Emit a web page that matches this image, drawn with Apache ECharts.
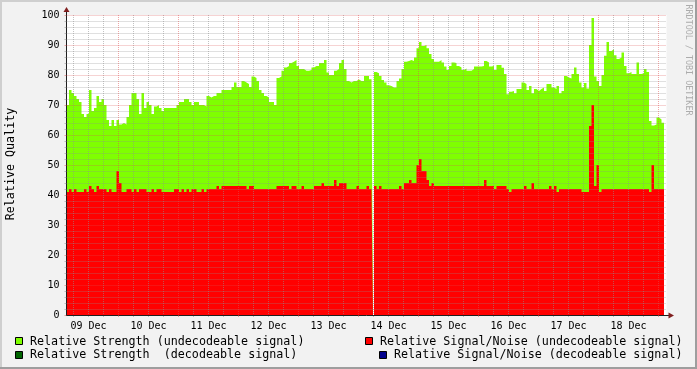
<!DOCTYPE html>
<html><head><meta charset="utf-8">
<script src="https://cdn.jsdelivr.net/npm/echarts@6/dist/echarts.min.js"></script>
<style>html,body{margin:0;padding:0;background:#f2f2f2}#c{width:697px;height:369px}</style>
</head><body><div id="c"></div>
<script>
// time axis: hours from graph start (09 Dec ~03:10), one value per hour
const spanHours = 240;
const firstMidnightHour = 20.8;           // 10 Dec 00:00
const dayLabels = ['09 Dec','10 Dec','11 Dec','12 Dec','13 Dec','14 Dec','15 Dec','16 Dec','17 Dec','18 Dec'];
const yTicks = [0,10,20,30,40,50,60,70,80,90,100];

const strengthUndecodeable = [
70,75,74,73,72,71,67,66,67,75,
68,69,73,71,72,70,65,63,65,63,
65,63.5,64,63.5,66,70,74,74,72,67,
74,69,71,70,67,69.5,70,69,68,69,
69,69,69,69,70,71,71,72,72,71,
70,71,71,70,70,69.5,73,72.5,73,73,
74,74,75,75,75,75,76,77.5,76,76,
78,77.5,77,76,79.5,79,78,75,74,73,
72.5,71,71,70,79,79.5,81.4,82.5,83,84,
84.4,85,83,82,82,81.4,81.4,81.7,82.5,83,
83,84,84,85,80.8,80,80,81.4,82,84,
85,82,78,77.5,78,78,78.5,78,78,79.7,
79.7,78.6,80,81,80.6,79.7,78.3,77.5,76.6,76.3,
75.8,75.8,78,78.8,82,84.4,84.7,85,84.7,85.8,
88.9,91,89.7,90,88.9,87,85.3,84.4,84.4,85,
84.2,82.8,81.7,83,84.2,84,83,82.5,81.7,82.2,
81.4,81.4,82,82.8,82.8,82.8,83,84.7,84.2,82.8,
83,81.7,83.3,83.3,82.4,80.3,73.6,74.4,74.7,73.9,
75.3,75.3,77.5,77,75,76.3,73.9,75.3,74.7,75.3,
75.8,74.7,77,77,75.8,75.3,76.3,73.9,74.7,79.7,
79.2,78.8,80.3,82.5,80.3,77.5,75.8,77.3,75.5,90,
99,79.5,78,76.3,80,86.4,91,88,88.6,86.6,
85.3,85.8,87.5,83,80.6,81,80.3,80.3,84.2,80.3,
80.6,82,81,64.7,63.2,63.5,65.8,65.2,64.1
];
const snrUndecodeable = [
41,42,41,42,41,41,41,42,41,43,
42,41,43,42,42,42,41,42,41,41,
48,44,41,41,42,42,41,42,41,42,
42,42,41,41,42,41,42,42,41,41,
41,41,41,42,42,41,42,41,42,41,
42,42,41,41,42,41,42,42,42,42,
43,42,43,43,43,43,43,43,43,43,
43,43,42,43,43,42,42,42,42,42,
42,42,42,42,43,43,43,43,43,42,
43,43,42,42,43,42,42,42,42,43,
43,43,44,43,43,43,43,45,43,44,
44,44,42,42,42,42,43,42,42,42,
43,42,42,43,42,43,42,42,42,42,
42,42,42,43,42,44,44,45,44,44,
50,52,48,48,45,43,44,43,43,43,
43,43,43,43,43,43,43,43,43,43,
43,43,43,43,43,43,43,45,43,43,
43,42,43,43,43,43,42,41,42,42,
42,42,42,43,42,42,44,42,42,42,
42,42,42,43,42,43,41,42,42,42,
42,42,42,42,42,42,41,41,41,63,
70,43,50,41,42,42,42,42,42,42,
42,42,42,42,42,42,42,42,42,42,
42,42,42,41,50,42,42,42,42
];
const strengthDecodeable = [];
const snrDecodeable = [];
const unknownSpans = [[122.6, 123.0]];   // no data (blank column)

const names = ['Relative Strength (undecodeable signal)','Relative Strength  (decodeable signal)',
  'Relative Signal/Noise (undecodeable signal)','Relative Signal/Noise (decodeable signal)'];
const colors = ['#7fff00','#006400','#ff0000','#00008b'];

// step data: value i holds over [i, i+1); unknown spans break the area
function toSteps(arr) {
  if (!arr.length) return [];
  const out = [];
  arr.forEach((v, i) => {
    out.push([i, v]);
    unknownSpans.forEach(([a, b]) => {
      if (a >= i && a < i + 1) { out.push([a, v]); out.push([a, null]); out.push([b, v]); }
    });
  });
  out.push([arr.length, arr[arr.length - 1]]);
  return out;
}

const majorHours = [], labelHours = [], minorHours = [];
for (let k = 0; firstMidnightHour + 24*k <= spanHours; k++) majorHours.push(firstMidnightHour + 24*k);
dayLabels.forEach((_, k) => labelHours.push(firstMidnightHour - 12 + 24*k));
for (let k = -3; firstMidnightHour + 6*k <= spanHours; k++) if (((k%4)+4)%4 !== 0) minorHours.push(firstMidnightHour + 6*k);

const GRID = 'rgba(143,143,143,0.55)';
const MGRID = 'rgba(222,79,79,0.5)';
const FONT = 'DejaVu Sans Mono';

function areaSeries(idx, arr, z) {
  return { name: names[idx], type:'line', step:'end', data: toSteps(arr), symbol:'none', showSymbol:false,
    connectNulls:false,
    lineStyle:{width:0, opacity:0}, itemStyle:{color:colors[idx]}, areaStyle:{color:colors[idx], opacity:1},
    z: z, silent:true };
}

const legendItems = [
  {box:[15.5,337.5], tx:30, ty:341.5, i:0},
  {box:[15.5,351.5], tx:30, ty:355, i:1},
  {box:[365.5,337.5], tx:380, ty:341.5, i:2},
  {box:[379.5,351.5], tx:394, ty:355, i:3}
];
const graphic = [
  {type:'rect', shape:{x:0,y:0,width:697,height:2}, style:{fill:'#cfcfcf'}, silent:true},
  {type:'rect', shape:{x:0,y:0,width:2,height:369}, style:{fill:'#cfcfcf'}, silent:true},
  {type:'rect', shape:{x:0,y:367,width:697,height:2}, style:{fill:'#9e9e9e'}, silent:true},
  {type:'rect', shape:{x:695,y:0,width:2,height:369}, style:{fill:'#9e9e9e'}, silent:true},
  {type:'line', shape:{x1:66.5,y1:15,x2:66.5,y2:11}, style:{stroke:'#1f1f1f', lineWidth:1}, silent:true},
  {type:'polygon', shape:{points:[[63.5,12],[69.5,12],[66.5,7]]}, style:{fill:'#801f1f'}, silent:true},
  {type:'line', shape:{x1:666,y1:315.5,x2:669,y2:315.5}, style:{stroke:'#1f1f1f', lineWidth:1}, silent:true},
  {type:'polygon', shape:{points:[[668.5,312.5],[668.5,318.5],[674,315.5]]}, style:{fill:'#801f1f'}, silent:true},
  {type:'text', x:11, y:164, rotation:Math.PI/2, silent:true,
    style:{text:'Relative Quality', font:'11.7px "DejaVu Sans Mono"', fill:'#000', align:'center', verticalAlign:'middle'}},
  {type:'text', x:688, y:60, rotation:-Math.PI/2, silent:true,
    style:{text:'RRDTOOL / TOBI OETIKER', font:'8.4px "DejaVu Sans Mono"', fill:'#acacac', align:'center', verticalAlign:'middle'}}
];
legendItems.forEach(it => {
  graphic.push({type:'rect', shape:{x:it.box[0], y:it.box[1], width:7, height:7}, style:{fill:colors[it.i], stroke:'#000', lineWidth:1}, silent:true});
  graphic.push({type:'text', x:it.tx, y:it.ty, silent:true,
    style:{text:names[it.i], font:'11.7px "DejaVu Sans Mono"', fill:'#000', align:'left', verticalAlign:'middle'}});
});

const chart = echarts.init(document.getElementById('c'));
chart.setOption({
  animation:false,
  backgroundColor:'#f2f2f2',
  grid:{left:66.5, top:15, width:600, height:300, show:true, backgroundColor:'#ffffff', borderWidth:0, containLabel:false},
  xAxis:[
    { type:'value', min:0, max:spanHours, position:'bottom', z:10,
      axisLine:{show:true, onZero:false, lineStyle:{color:'#1f1f1f', width:1}},
      axisTick:{show:true, customValues:majorHours, length:2, lineStyle:{color:MGRID}},
      axisLabel:{show:true, customValues:labelHours, formatter:v => dayLabels[Math.round((v - labelHours[0])/24)],
        fontFamily:FONT, fontSize:10, color:'#000', margin:6},
      splitLine:{show:true, lineStyle:{color:MGRID, type:[1,1], width:1}} },
    { type:'value', min:0, max:spanHours, position:'bottom', z:9,
      axisLine:{show:false}, axisLabel:{show:false},
      axisTick:{show:true, customValues:minorHours, length:2, lineStyle:{color:GRID}},
      splitLine:{show:true, lineStyle:{color:GRID, type:[1,1], width:1}} }
  ],
  yAxis:{ type:'value', min:0, max:100, interval:10, z:10,
    axisLine:{show:true, onZero:false, lineStyle:{color:'#1f1f1f', width:1}},
    axisTick:{show:true, length:2, lineStyle:{color:MGRID}},
    minorTick:{show:true, splitNumber:5, length:2, lineStyle:{color:GRID}},
    axisLabel:{customValues:yTicks, fontFamily:FONT, fontSize:10, color:'#000', margin:7},
    splitLine:{show:true, lineStyle:{color:MGRID, type:[1,1], width:1}},
    minorSplitLine:{show:true, lineStyle:{color:GRID, type:[1,1], width:1}} },
  series:[
    areaSeries(0, strengthUndecodeable, 2),
    areaSeries(1, strengthDecodeable, 3),
    areaSeries(2, snrUndecodeable, 4),
    areaSeries(3, snrDecodeable, 5)
  ],
  graphic: graphic
});
</script></body></html>
